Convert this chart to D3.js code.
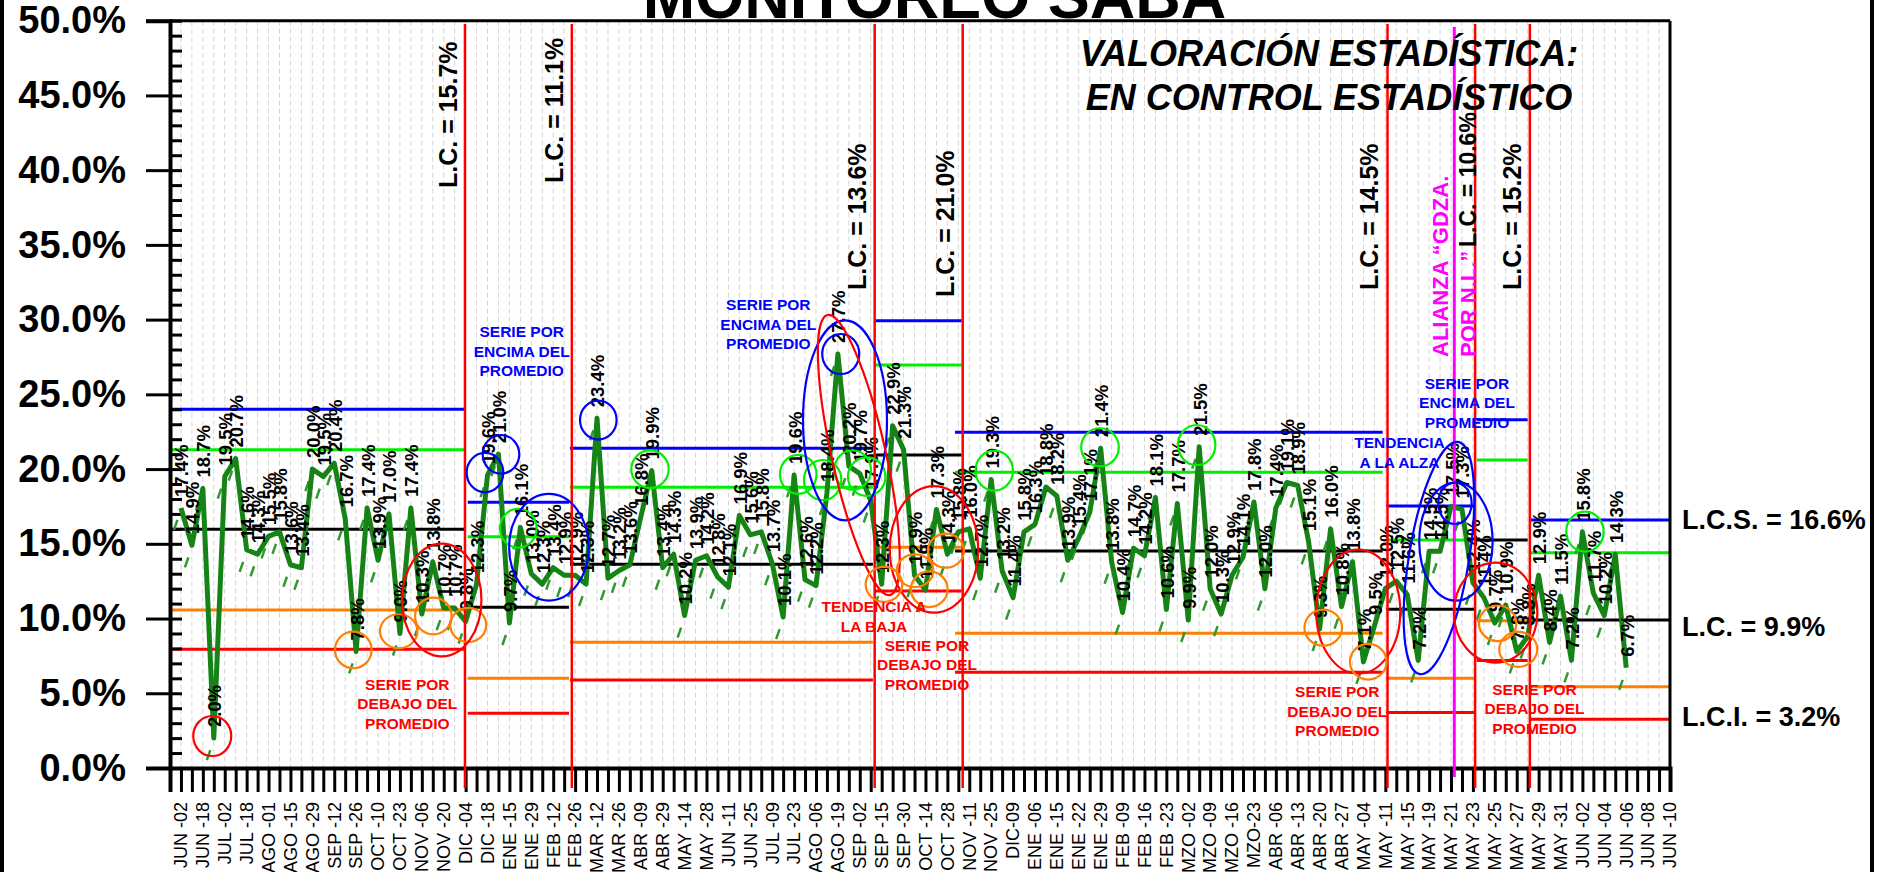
<!DOCTYPE html>
<html>
<head>
<meta charset="utf-8">
<script src="https://cdn.jsdelivr.net/npm/d3@7"></script>
<style>
body{margin:0;background:#fff;}
svg{display:block;font-family:Arial,"Liberation Sans",sans-serif;}
</style>
</head>
<body>
<svg id="chart" width="1879" height="872"></svg>
<script>
// fechas del eje (una de cada dos semanas)
var dateLabels = ["JUN -02","JUN -18","JUL -02","JUL -18","AGO -01","AGO -15","AGO -29","SEP -12","SEP -26",
  "OCT -10","OCT -23","NOV -06","NOV -20","DIC -04","DIC -18","ENE -15","ENE -29","FEB -12","FEB -26",
  "MAR -12","MAR -26","ABR -09","ABR -29","MAY -14","MAY -28","JUN -11","JUN -25","JUL -09","JUL -23",
  "AGO -06","AGO -19","SEP -02","SEP -15","SEP -30","OCT -14","OCT -28","NOV -11","NOV -25","DIC-09",
  "ENE -06","ENE -15","ENE -22","ENE -29","FEB -09","FEB -16","FEB -23","MZO -02","MZO -09","MZO -16",
  "MZO-23","ABR -06","ABR -13","ABR -20","ABR -27","MAY -04","MAY -11","MAY -15","MAY -19","MAY -21",
  "MAY -23","MAY -25","MAY -27","MAY -29","MAY -31","JUN -02","JUN -04","JUN -06","JUN -08","JUN -10"];

// serie (%)
var values = [17.4,14.9,18.7,2.0,19.5,20.7,14.6,14.3,15.5,15.8,13.6,13.4,20.0,19.5,20.4,16.7,7.8,17.4,13.9,17.0,
  9.0,17.4,10.3,13.8,10.7,10.7,9.8,12.3,19.6,21.0,9.7,16.1,13.0,12.3,13.4,12.9,12.9,12.3,23.4,12.7,
  13.2,13.6,16.8,19.9,13.4,14.3,10.2,13.9,14.2,12.8,12.1,16.9,15.6,15.8,13.7,10.1,19.6,12.6,12.2,18.4,
  27.7,20.2,19.7,17.9,12.3,22.9,21.3,12.9,11.9,17.3,14.3,15.8,16.0,12.7,19.3,13.2,11.4,15.8,16.3,18.8,
  18.2,13.9,15.4,17.1,21.4,13.8,10.4,14.7,14.2,18.1,10.6,17.7,9.9,21.5,12.0,10.3,12.9,14.1,17.8,12.0,
  17.4,19.1,18.9,15.1,9.3,16.0,10.8,13.8,7.1,9.5,12.0,12.5,11.6,7.2,14.5,14.5,17.5,17.3,12.4,11.4,
  9.7,10.9,7.8,8.8,12.9,8.4,11.5,7.2,15.8,11.7,10.2,14.3,6.7];

var yTicks = d3.range(0, 51, 5);
var yMinor = d3.range(0, 51, 1);

// tramos: inicio, fin (indice), lcs, +2s, lc, -2s, lci
var phaseStart = [-1, 26.19, 35.53, 63.3, 70.7, 110.1, 118.35, 123.2];
var phaseEnd   = [25.94, 35.44, 63.2, 71.3, 109.76, 118.2, 123.0, 136];
var phaseUcl   = [24.0, 17.78, 21.39, 29.93, 22.46, 17.53, 23.3, 16.6];
var phaseUpper = [21.3, 15.48, 18.78, 26.96, 19.78, 15.25, 20.6, 14.4];
var phaseCl    = [15.97, 10.75, 13.63, 20.94, 14.52, 10.62, 15.25, 9.9];
var phaseLower = [10.57, 6.0, 8.41, 14.77, 9.01, 6.0, 9.86, 5.44];
var phaseLcl   = [7.94, 3.66, 5.89, 11.84, 6.4, 3.72, 7.2, 3.26];

var changeLines = [25.94, 35.7, 63.36, 71.4, 110.2, 118.2, 123.2];
var allianceLine = 116.3;

var svg = d3.select("#chart");
var W = 1879, H = 872;
var pLeft = 170, pRight = 1670, pTop = 20.7, pBottom = 768;

var x = d3.scaleLinear().domain([-1, 136]).range([pLeft, pRight]);
var y = d3.scaleLinear().domain([0, 50]).range([pBottom, pTop]);

var C = {blue:"#0000ff", green:"#00ee00", black:"#000", orange:"#ff8000", red:"#ff0000", magenta:"#ff00ff"};

//frame
svg.append("rect").attr("x", 2).attr("y", -10).attr("width", 1870).attr("height", H + 20)
  .attr("fill", "none").attr("stroke", "#000").attr("stroke-width", 4);

//grid
svg.append("g").selectAll("line").data(d3.range(0, 136, 1)).enter().append("line")
  .attr("x1", function(d){ return x(d); }).attr("x2", function(d){ return x(d); })
  .attr("y1", pTop).attr("y2", pBottom)
  .attr("stroke", "#d4d4d4").attr("stroke-width", 1).attr("stroke-dasharray", "5,3");

//control limits
var limitSets = [[phaseUcl, C.blue], [phaseUpper, C.green], [phaseCl, C.black], [phaseLower, C.orange], [phaseLcl, C.red]];
var gLim = svg.append("g");
limitSets.forEach(function(set){
  gLim.selectAll(null).data(phaseStart).enter().append("line")
    .attr("x1", function(d){ return x(d); })
    .attr("x2", function(d, i){ return x(phaseEnd[i]); })
    .attr("y1", function(d, i){ return y(set[0][i]); })
    .attr("y2", function(d, i){ return y(set[0][i]); })
    .attr("stroke", set[1]).attr("stroke-width", 3);
});

//axes
var yAxis = svg.append("g").attr("transform", "translate(" + pLeft + ",0)")
  .call(d3.axisLeft(y).tickValues(yTicks).tickSize(24).tickPadding(20)
    .tickFormat(function(d){ return d.toFixed(1) + "%"; }));
yAxis.selectAll("text").attr("font-size", 38).attr("font-weight", "bold").attr("fill", "#000")
  .attr("font-family", "Arial, 'Liberation Sans', sans-serif");
yAxis.selectAll("line").attr("stroke-width", 3);
yAxis.select(".domain").attr("stroke-width", 4);

var yMinorAxis = svg.append("g").attr("transform", "translate(" + pLeft + ",0)")
  .call(d3.axisRight(y).tickValues(yMinor).tickSize(12).tickFormat(""));
yMinorAxis.selectAll("line").attr("stroke-width", 3);
yMinorAxis.select(".domain").remove();

var xAxis = svg.append("g").attr("transform", "translate(0," + pBottom + ")")
  .call(d3.axisBottom(x).tickValues(d3.range(-1, 137)).tickSize(24).tickFormat(""));
xAxis.selectAll("line").attr("stroke-width", 3);
xAxis.select(".domain").attr("stroke-width", 4);

svg.append("line").attr("x1", pLeft).attr("x2", pRight).attr("y1", pTop).attr("y2", pTop)
  .attr("stroke", "#000").attr("stroke-width", 3);
svg.append("line").attr("x1", pRight).attr("x2", pRight).attr("y1", pTop).attr("y2", pBottom)
  .attr("stroke", "#000").attr("stroke-width", 3);

svg.append("g").selectAll("text").data(dateLabels).enter().append("text")
  .attr("transform", function(d, i){ return "translate(" + x(2 * i) + ",802) rotate(-90)"; })
  .attr("text-anchor", "end").attr("dy", "0.35em")
  .attr("font-size", 18).attr("fill", "#000")
  .text(function(d){ return d; });

//series shadow marks
svg.append("g").selectAll("line").data(values).enter().append("line")
  .attr("x1", function(d, i){ return x(i) - 7; }).attr("y1", function(d){ return y(d) + 22; })
  .attr("x2", function(d, i){ return x(i) - 3.5; }).attr("y2", function(d){ return y(d) + 12; })
  .attr("stroke", "#2e9a2e").attr("stroke-width", 2.5);

//series
var line = d3.line().x(function(d, i){ return x(i); }).y(function(d){ return y(d); });
svg.append("path").datum(values).attr("d", line)
  .attr("fill", "none").attr("stroke", "#168316").attr("stroke-width", 5).attr("stroke-linejoin", "round");

svg.append("g").selectAll("text").data(values).enter().append("text")
  .attr("transform", function(d, i){ return "translate(" + (x(i) + 1) + "," + (y(d) - 11) + ") rotate(-90)"; })
  .attr("dy", "0.35em").attr("font-size", 18.5).attr("font-weight", "bold").attr("fill", "#000")
  .text(function(d){ return d.toFixed(1) + "%"; });

//phase change lines
svg.append("g").selectAll("line").data(changeLines).enter().append("line")
  .attr("x1", function(d){ return x(d); }).attr("x2", function(d){ return x(d); })
  .attr("y1", 24).attr("y2", 788)
  .attr("stroke", C.red).attr("stroke-width", 2.5);
svg.append("line").attr("x1", x(allianceLine)).attr("x2", x(allianceLine))
  .attr("y1", 27).attr("y2", 777).attr("stroke", C.magenta).attr("stroke-width", 3);

//ellipses: centro (indice, valor), radios px, giro
var rings = [
  [2.86, 2.14, 19, 20, "red", 0], [15.74, 7.9, 18.3, 18.3, "orange", 0], [19.89, 9.15, 18.7, 17, "orange", 0],
  [23.05, 10.17, 18.3, 18.3, "orange", 0], [26.24, 9.57, 18, 17, "orange", 0], [23.82, 11.24, 39.7, 56.3, "red", 0],
  [27.77, 19.76, 18.3, 19.7, "blue", 0], [29.23, 20.99, 18.3, 19.3, "blue", 0], [30.81, 16.04, 18.3, 19.5, "green", 0],
  [33.61, 14.77, 39.8, 53.3, "blue", 0], [38.12, 23.28, 18.3, 19.5, "blue", 0], [42.84, 19.99, 18.7, 18.8, "green", 0],
  [56.38, 19.65, 18.3, 19.5, "green", 0], [58.61, 19.27, 18.7, 20, "green", 0], [61.35, 19.94, 18.3, 19.7, "green", 0],
  [62.63, 19.49, 18.7, 19.3, "green", 0], [60.26, 27.7, 18.5, 20, "blue", 0], [60.65, 23.26, 42, 100, "blue", 0],
  [61.91, 20.94, 27, 143.5, "red", -12.6], [68.78, 14.63, 44.2, 63.3, "red", 0], [64.21, 12.29, 18.3, 17.5, "orange", 0],
  [67.04, 13.2, 18.3, 16.3, "orange", 0], [69.87, 14.54, 18, 17, "orange", 0], [68.35, 11.96, 18.3, 17.8, "orange", 0],
  [74.28, 19.89, 18.7, 20, "green", 0], [83.94, 21.46, 18.8, 19, "green", 0], [92.77, 21.61, 18.7, 20, "green", 0],
  [107.53, 10.46, 42, 62, "red", 0], [104.33, 9.39, 18.8, 18, "orange", 0], [108.44, 7.11, 18.3, 17.8, "orange", 0],
  [114.9, 14.05, 30, 117.7, "blue", 9.4], [116.45, 15.14, 36.7, 59, "blue", 0], [116.36, 17.71, 16.7, 20.7, "blue", 0],
  [120.08, 10.39, 41.7, 50, "red", 0], [120.26, 9.68, 18.7, 17.8, "orange", 0], [122.14, 7.94, 19, 17.5, "orange", 0],
  [128.23, 15.81, 18.7, 20, "green", 0]
];
svg.append("g").selectAll("ellipse").data(rings).enter().append("ellipse")
  .attr("transform", function(d){ return "translate(" + x(d[0]) + "," + y(d[1]) + ") rotate(" + d[5] + ")"; })
  .attr("rx", function(d){ return d[2]; }).attr("ry", function(d){ return d[3]; })
  .attr("fill", "none").attr("stroke", function(d){ return C[d[4]]; }).attr("stroke-width", 2.2);

//notes
var notes = [
  [["SERIE POR","ENCIMA DEL","PROMEDIO"], 521.7, 331.5, "blue"],
  [["SERIE POR","DEBAJO DEL","PROMEDIO"], 407.3, 684.3, "red"],
  [["SERIE POR","ENCIMA DEL","PROMEDIO"], 768.3, 304.5, "blue"],
  [["TENDENCIA A","LA BAJA"], 874, 606.7, "red"],
  [["SERIE POR","DEBAJO DEL","PROMEDIO"], 927, 645, "red"],
  [["SERIE POR","ENCIMA DEL","PROMEDIO"], 1467, 383.3, "blue"],
  [["TENDENCIA","A LA ALZA"], 1399.5, 442.7, "blue"],
  [["SERIE POR","DEBAJO DEL","PROMEDIO"], 1337.3, 691.7, "red"],
  [["SERIE POR","DEBAJO DEL","PROMEDIO"], 1534.5, 689.3, "red"]
];
notes.forEach(function(n){
  var t = svg.append("text").attr("text-anchor", "middle").attr("font-size", 15.5)
    .attr("font-weight", "bold").attr("fill", C[n[3]]);
  n[0].forEach(function(s, i){
    t.append("tspan").attr("x", n[1]).attr("y", n[2] + 5.5 + i * 19.5).text(s);
  });
});

var vNotes = [
  ["L.C. = 15.7%", 457, 188, "black", 25], ["L.C. = 11.1%", 563, 183, "black", 25],
  ["L.C. = 13.6%", 866, 290, "black", 25], ["L.C. = 21.0%", 954, 297, "black", 25],
  ["L.C. = 14.5%", 1378, 290, "black", 25], ["ALIANZA \u201CGDZA.", 1448, 357, "magenta", 22],
  ["POR N.L.\u201D", 1476, 357, "magenta", 22], ["L.C. = 10.6%", 1476, 247, "black", 23],
  ["L.C. = 15.2%", 1521, 290, "black", 25]
];
svg.append("g").selectAll("text").data(vNotes).enter().append("text")
  .attr("transform", function(d){ return "translate(" + d[1] + "," + d[2] + ") rotate(-90)"; })
  .attr("font-size", function(d){ return d[4]; }).attr("font-weight", "bold")
  .attr("fill", function(d){ return C[d[3]]; })
  .text(function(d){ return d[0]; });

var sideNotes = [["L.C.S. = 16.6%", 529], ["L.C. = 9.9%", 636], ["L.C.I. = 3.2%", 726]];
svg.append("g").selectAll("text").data(sideNotes).enter().append("text")
  .attr("x", 1682).attr("y", function(d){ return d[1]; })
  .attr("font-size", 27).attr("font-weight", "bold").attr("fill", "#000")
  .text(function(d){ return d[0]; });

//titles
svg.append("text").attr("x", 934.5).attr("y", 18).attr("text-anchor", "middle")
  .attr("font-size", 63).attr("font-weight", "bold").text("MONITOREO SABA");
svg.append("text").attr("x", 1329).attr("y", 66).attr("text-anchor", "middle")
  .attr("font-size", 36).attr("font-weight", "bold").attr("font-style", "italic")
  .text("VALORACIÓN ESTADÍSTICA:");
svg.append("text").attr("x", 1329).attr("y", 110).attr("text-anchor", "middle")
  .attr("font-size", 36).attr("font-weight", "bold").attr("font-style", "italic")
  .text("EN CONTROL ESTADÍSTICO");
</script>
</body>
</html>
